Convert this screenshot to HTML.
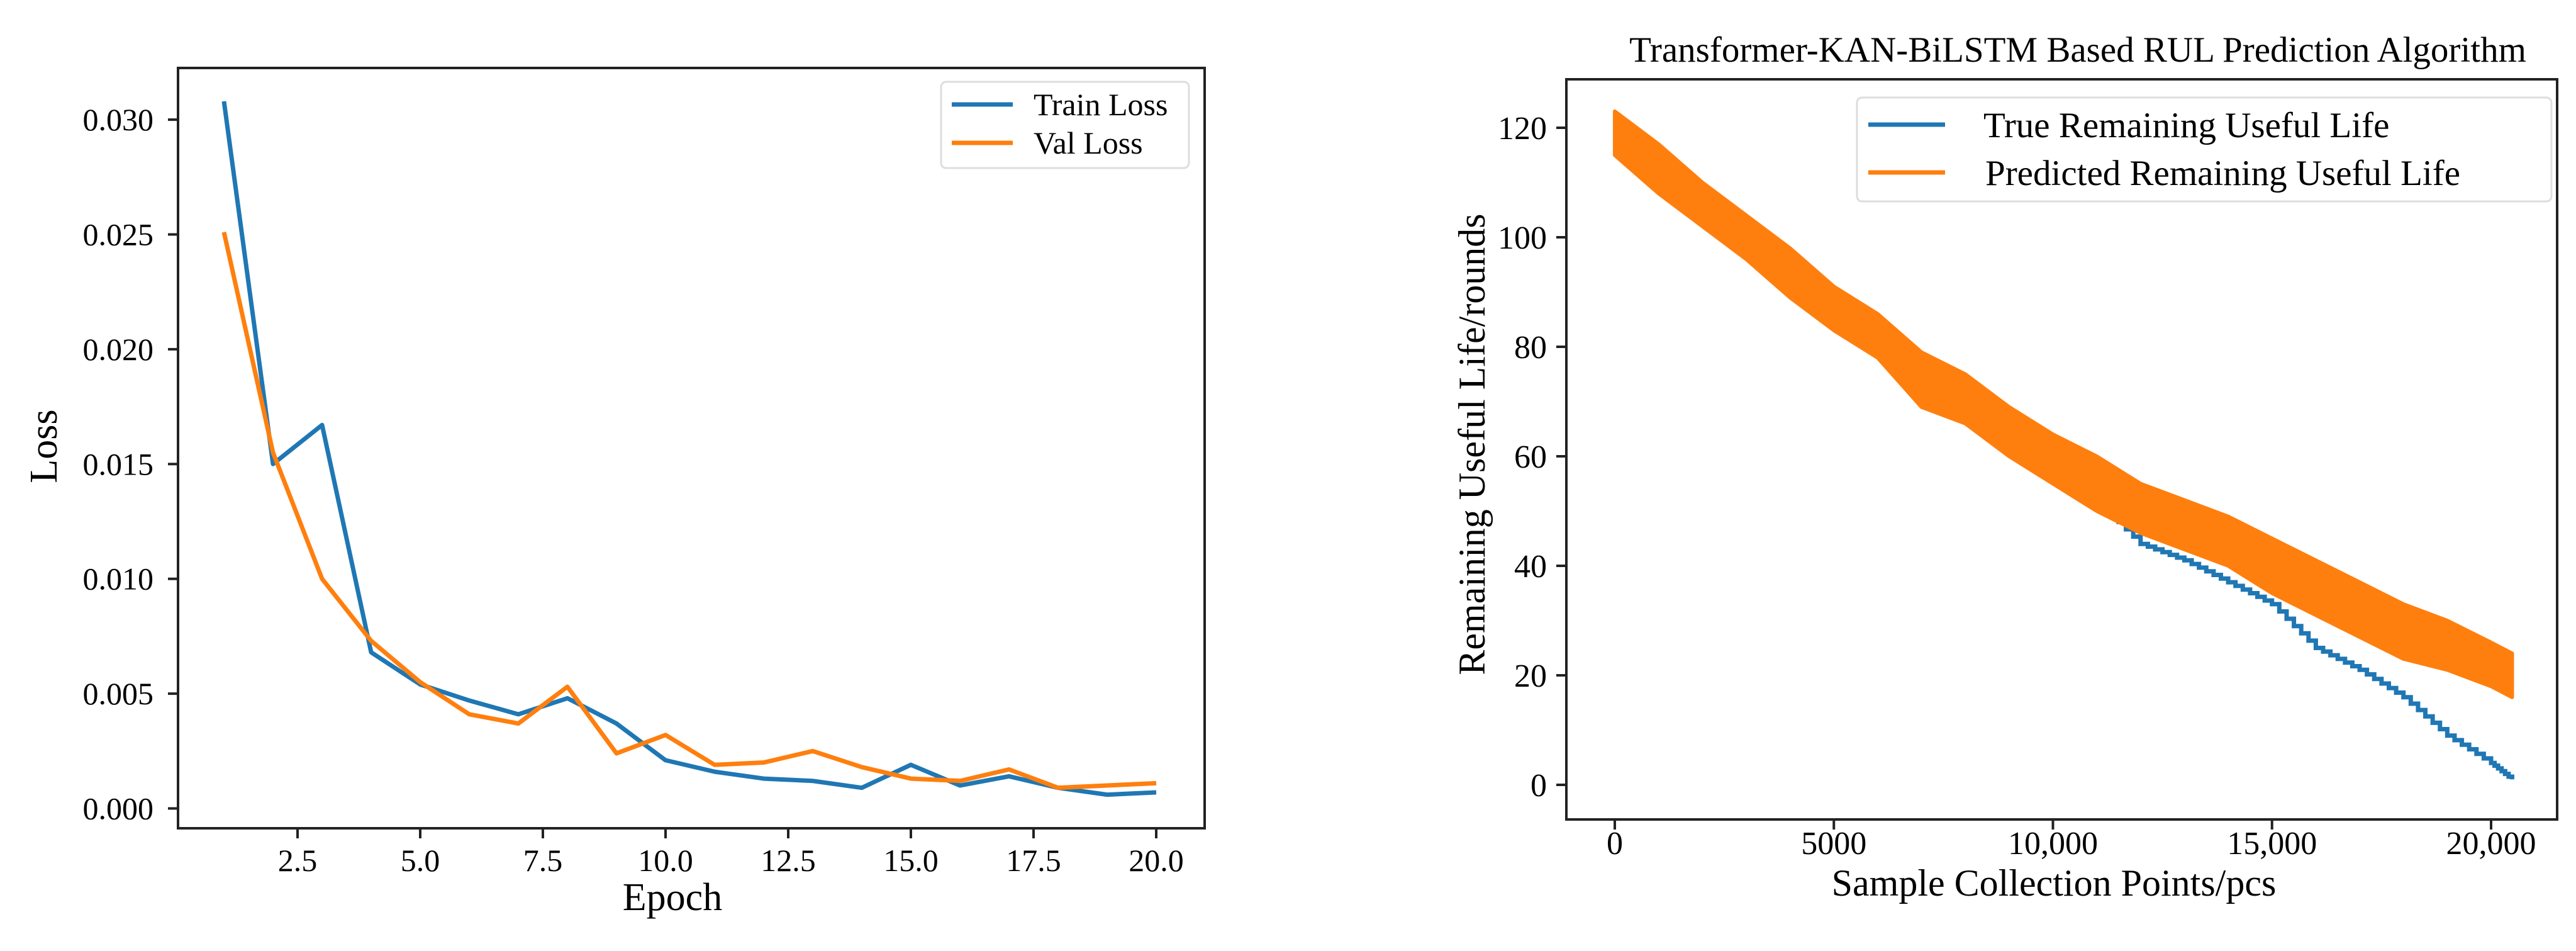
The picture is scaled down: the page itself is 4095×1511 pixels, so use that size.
<!DOCTYPE html>
<html><head><meta charset="utf-8">
<style>
html,body{margin:0;padding:0;background:#fff;}
svg{display:block;font-family:"Liberation Serif",serif;}
</style></head>
<body>
<svg id="fig" width="4095" height="1511" viewBox="0 0 4095 1511" xmlns="http://www.w3.org/2000/svg">
  <rect width="4095" height="1511" fill="#fff"/>
  <g id="left"></g>
  <g id="right"></g>
</svg>
<script>
// ---- Loss chart data ----
const epochs = [1,2,3,4,5,6,7,8,9,10,11,12,13,14,15,16,17,18,19,20];
const trainLoss = [0.0308,0.0150,0.0167,0.0068,0.0054,0.0047,0.0041,0.0048,0.0037,0.0021,0.0016,0.0013,0.0012,0.0009,0.0019,0.0010,0.0014,0.0009,0.0006,0.0007];
const valLoss = [0.0251,0.0155,0.0100,0.0073,0.0055,0.0041,0.0037,0.0053,0.0024,0.0032,0.0019,0.0020,0.0025,0.0018,0.0013,0.0012,0.0017,0.0009,0.0010,0.0011];
const lossXTicks = [2.5,5.0,7.5,10.0,12.5,15.0,17.5,20.0];
const lossYTicks = [0,0.005,0.010,0.015,0.020,0.025,0.030];

// ---- RUL chart data (samples in thousands) ----
const rulSamples = [0,1,2,3,4,5,6,7,8,9,10,11,12,13,14,15,16,17,18,19,20,20.48];
const trueRul = [118,112,106,100,94,88,82,76,70,64,58,52,44,41,37,33,25,21,16,9,4,1];
const predUpper = [123,117,110,104,98,91,86,79,75,69,64,60,55,52,49,45,41,37,33,30,26,24];
const predLower = [115,108,102,96,89,83,78,69,66,60,55,50,46,43,40,35,31,27,23,21,18,16];
const rulXTicks = [0,5000,10000,15000,20000];
const rulXTickLabels = ["0","5000","10,000","15,000","20,000"];
const rulYTicks = [0,20,40,60,80,100,120];

const NS="http://www.w3.org/2000/svg";
function mk(parent,tag,attrs,text){const e=document.createElementNS(NS,tag);for(const k in attrs)e.setAttribute(k,attrs[k]);if(text!==undefined)e.textContent=text;parent.appendChild(e);return e;}
const BLUE="#1f77b4", ORANGE="#ff7f0e";

// ===== Left chart =====
(function(){
  const g=document.getElementById('left');
  const L=283,T=108,R=1915,B=1316;
  const xs=v=>356+(v-1)*(1838-356)/19;
  const ys=v=>1284.5-(v/0.005)*182.4;
  const frame=mk(g,'rect',{x:L,y:T,width:R-L,height:B-T,fill:'none',stroke:'#222','stroke-width':4});
  
  
  lossXTicks.forEach(t=>{
    const x=xs(t);
    const tk=mk(g,'line',{x1:x,y1:B,x2:x,y2:B+16,stroke:'#222','stroke-width':4});
    
    
    const lb=mk(g,'text',{x:x,y:1384,'font-size':50,'text-anchor':'middle',fill:'#000'},t.toFixed(1));
    
    
  });
  lossYTicks.forEach(t=>{
    const y=ys(t);
    const tk=mk(g,'line',{x1:L-16,y1:y,x2:L,y2:y,stroke:'#222','stroke-width':4});
    
    
    const lb=mk(g,'text',{x:244,y:y+17,'font-size':50,'text-anchor':'end',fill:'#000'},t.toFixed(3));
    
    
  });
  const pts=a=>a.map((v,i)=>xs(epochs[i])+','+ys(v)).join(' ');
  const tl=mk(g,'polyline',{points:pts(trainLoss),fill:'none',stroke:BLUE,'stroke-width':7,'stroke-linejoin':'round'});
  
  
  const vl=mk(g,'polyline',{points:pts(valLoss),fill:'none',stroke:ORANGE,'stroke-width':7,'stroke-linejoin':'round'});
  
  
  const xl=mk(g,'text',{x:1069,y:1446,'font-size':62,'text-anchor':'middle',fill:'#000'},'Epoch');
  
  
  const yl=mk(g,'text',{x:0,y:0,'font-size':62,'text-anchor':'middle',fill:'#000',transform:'translate(90,709) rotate(-90)'},'Loss');
  
  
  const lg=mk(g,'g',{});
  
  
  mk(lg,'rect',{x:1496,y:130,width:394,height:137,rx:8,fill:'#fff',stroke:'#ddd','stroke-width':3});
  const e1=mk(lg,'line',{x1:1513,y1:166,x2:1610,y2:166,stroke:BLUE,'stroke-width':7});
  
  
  const t1=mk(lg,'text',{x:1643,y:183,'font-size':50,fill:'#000'},'Train Loss');
  
  
  const e2=mk(lg,'line',{x1:1513,y1:227,x2:1610,y2:227,stroke:ORANGE,'stroke-width':7});
  
  
  const t2=mk(lg,'text',{x:1643,y:244,'font-size':50,fill:'#000'},'Val Loss');
  
  
})();

// ===== Right chart =====
(function(){
  const g=document.getElementById('right');
  const L=2490,T=126,R=4065,B=1302;
  const xs=v=>2567+v*(3960-2567)/20000;
  const ys=v=>1247-v*8.7;
  const ttl=mk(g,'text',{x:3303,y:98,'font-size':57,'text-anchor':'middle',fill:'#000'},'Transformer-KAN-BiLSTM Based RUL Prediction Algorithm');
  
  
  const frame=mk(g,'rect',{x:L,y:T,width:R-L,height:B-T,fill:'none',stroke:'#222','stroke-width':4});
  
  
  rulXTicks.forEach((t,i)=>{
    const x=xs(t);
    const tk=mk(g,'line',{x1:x,y1:B,x2:x,y2:B+16,stroke:'#222','stroke-width':4});
    
    
    const lb=mk(g,'text',{x:x,y:1357,'font-size':52,'text-anchor':'middle',fill:'#000'},rulXTickLabels[i]);
    
    
  });
  rulYTicks.forEach(t=>{
    const y=ys(t);
    const tk=mk(g,'line',{x1:L-16,y1:y,x2:L,y2:y,stroke:'#222','stroke-width':4});
    
    
    const lb=mk(g,'text',{x:2459,y:y+18,'font-size':52,'text-anchor':'end',fill:'#000'},String(t));
    
    
  });
  let d='';
  rulSamples.forEach((s,i)=>{
    const x=xs(s*1000), y=ys(trueRul[i]);
    if(i===0){d+='M'+x+','+y;}
    else{
      const px=xs(rulSamples[i-1]*1000), py=ys(trueRul[i-1]);
      const n=6;
      for(let k=1;k<=n;k++){
        const sx=px+(x-px)*k/n, sy=py+(y-py)*k/n;
        d+=' H'+sx+' V'+sy;
      }
    }
  });
  const tr=mk(g,'path',{d:d,fill:'none',stroke:BLUE,'stroke-width':7});
  
  
  const up=rulSamples.map((s,i)=>xs(s*1000)+','+ys(predUpper[i]));
  const lo=rulSamples.map((s,i)=>xs(s*1000)+','+ys(predLower[i])).reverse();
  const band=mk(g,'polygon',{points:up.concat(lo).join(' '),fill:ORANGE,stroke:ORANGE,'stroke-width':6,'stroke-linejoin':'round'});
  
  
  const xl=mk(g,'text',{x:3265,y:1423,'font-size':60,'text-anchor':'middle',fill:'#000'},'Sample Collection Points/pcs');
  
  
  const yl=mk(g,'text',{x:0,y:0,'font-size':60,'text-anchor':'middle',fill:'#000',transform:'translate(2360,706) rotate(-90)'},'Remaining Useful Life/rounds');
  
  
  const lg=mk(g,'g',{});
  
  
  mk(lg,'rect',{x:2952,y:155,width:1104,height:165,rx:8,fill:'#fff',stroke:'#ddd','stroke-width':3});
  const e1=mk(lg,'line',{x1:2970,y1:198,x2:3092,y2:198,stroke:BLUE,'stroke-width':7});
  
  
  const t1=mk(lg,'text',{x:3153,y:218,'font-size':57,fill:'#000'},'True Remaining Useful Life');
  
  
  const e2=mk(lg,'line',{x1:2970,y1:274,x2:3092,y2:274,stroke:ORANGE,'stroke-width':7});
  
  
  const t2=mk(lg,'text',{x:3156,y:294,'font-size':57,fill:'#000'},'Predicted Remaining Useful Life');
  
  
})();
</script>
</body></html>
